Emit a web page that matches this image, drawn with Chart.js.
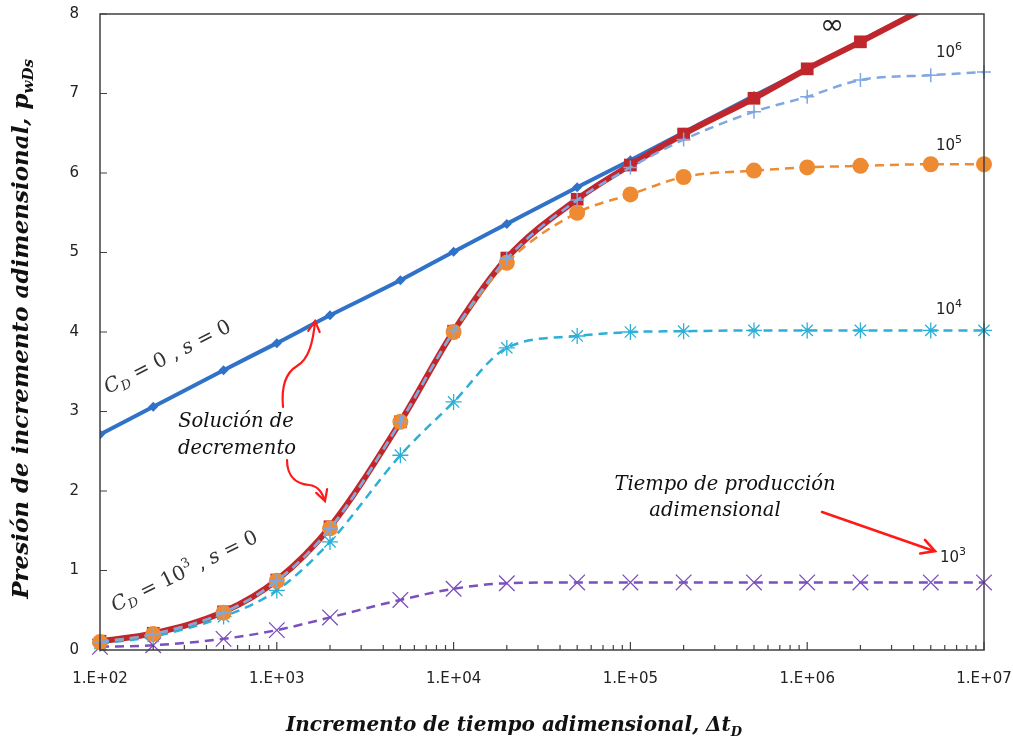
<!DOCTYPE html>
<html lang="es">
<head>
<meta charset="UTF-8">
<title>Presión de incremento adimensional</title>
<script src="https://cdn.jsdelivr.net/npm/chart.js"></script>
<style>
  body { margin: 0; background: #fff; }
  canvas { display: block; }
</style>
</head>
<body>
<canvas id="grafica" width="1013" height="738"></canvas>
<script>
// Incremento de tiempo adimensional (eje x logarítmico)
const dtD = [1e2, 2e2, 5e2, 1e3, 2e3, 5e3, 1e4, 2e4, 5e4, 1e5, 2e5, 5e5, 1e6, 2e6, 5e6, 1e7];

// C_D = 0, s = 0
const cd0 = [2.71, 3.06, 3.52, 3.86, 4.21, 4.65, 5.01, 5.36, 5.82, 6.16, 6.51, 6.97, 7.31, 7.66, 8.12, 8.46];
// C_D = 10^3, s = 0, para cada tiempo de producción
const tpInf = [0.11, 0.21, 0.48, 0.88, 1.55, 2.87, 4.01, 4.93, 5.67, 6.10, 6.49, 6.94, 7.31, 7.65, 8.11, 8.46];
const tp1e6 = [0.10, 0.20, 0.47, 0.87, 1.53, 2.87, 4.01, 4.92, 5.66, 6.07, 6.42, 6.77, 6.96, 7.17, 7.23, 7.27];
const tp1e5 = [0.10, 0.20, 0.47, 0.87, 1.53, 2.87, 4.00, 4.87, 5.50, 5.73, 5.95, 6.03, 6.07, 6.09, 6.11, 6.11];
const tp1e4 = [0.08, 0.17, 0.42, 0.75, 1.36, 2.45, 3.12, 3.80, 3.95, 4.00, 4.01, 4.02, 4.02, 4.02, 4.02, 4.02];
const tp1e3 = [0.04, 0.06, 0.14, 0.25, 0.41, 0.63, 0.77, 0.84, 0.85, 0.85, 0.85, 0.85, 0.85, 0.85, 0.85, 0.85];

const xTicks = [1e2, 1e3, 1e4, 1e5, 1e6, 1e7];
const xTickLabels = ['1.E+02', '1.E+03', '1.E+04', '1.E+05', '1.E+06', '1.E+07'];
const yTicks = [0, 1, 2, 3, 4, 5, 6, 7, 8];

const SANS = '"DejaVu Sans", sans-serif';
const SERIF = '"DejaVu Serif", serif';
const pts = arr => arr.map((y, i) => ({ x: dtD[i], y }));

// texto con sub/superíndices: parts = [{t, font, dy}]
function textWidth(ctx, parts) {
  let w = 0;
  for (const p of parts) { ctx.font = p.font; w += ctx.measureText(p.t).width; }
  return w;
}
function drawParts(ctx, x, y, parts) {
  let cx = x;
  for (const p of parts) {
    ctx.font = p.font;
    ctx.fillText(p.t, cx, y + (p.dy || 0));
    cx += ctx.measureText(p.t).width;
  }
}
function arrowHead(ctx, x, y, ang, len) {
  ctx.beginPath();
  ctx.moveTo(x - len * Math.cos(ang - 0.5), y - len * Math.sin(ang - 0.5));
  ctx.lineTo(x, y);
  ctx.lineTo(x - len * Math.cos(ang + 0.5), y - len * Math.sin(ang + 0.5));
  ctx.stroke();
}

const marco = {
  id: 'marco',
  afterDraw(chart) {
    const { ctx, chartArea: a, scales } = chart;
    ctx.save();

    // marco y marcas de los ejes hacia dentro
    ctx.strokeStyle = '#404040';
    ctx.lineWidth = 1.5;
    ctx.strokeRect(a.left, a.top, a.right - a.left, a.bottom - a.top);
    ctx.lineWidth = 1.2;
    ctx.beginPath();
    for (const v of yTicks) {
      const y = scales.y.getPixelForValue(v);
      ctx.moveTo(a.left, y); ctx.lineTo(a.left + 7, y);
    }
    for (let d = 1e2; d < 1e7; d *= 10) {
      for (let k = 1; k <= 10; k++) {
        const x = scales.x.getPixelForValue(k * d);
        ctx.moveTo(x, a.bottom); ctx.lineTo(x, a.bottom - (k === 1 || k === 10 ? 8 : 5));
      }
    }
    ctx.stroke();

    // títulos de los ejes
    ctx.fillStyle = '#111';
    ctx.textBaseline = 'alphabetic';
    const xt = [
      { t: 'Incremento de tiempo adimensional, ', font: 'bold italic 20px ' + SERIF },
      { t: '\u0394t', font: 'bold italic 20px ' + SERIF },
      { t: 'D', font: 'bold italic 13px ' + SERIF, dy: 5 }
    ];
    drawParts(ctx, 514 - textWidth(ctx, xt) / 2, 731, xt);

    const yt = [
      { t: 'Presión de incremento adimensional, ', font: 'bold italic 23px ' + SERIF },
      { t: 'p', font: 'bold italic 23px ' + SERIF },
      { t: 'wDs', font: 'bold italic 15px ' + SERIF, dy: 5 }
    ];
    ctx.save();
    ctx.translate(28, 329);
    ctx.rotate(-Math.PI / 2);
    drawParts(ctx, -textWidth(ctx, yt) / 2, 0, yt);
    ctx.restore();

    // etiquetas de cada curva
    ctx.fillStyle = '#222';
    ctx.textBaseline = 'middle';
    ctx.font = '29px ' + SANS;
    ctx.fillText('\u221E', 820, 26);
    const pot = (e, x, y) => drawParts(ctx, x, y, [
      { t: '10', font: '15px ' + SANS },
      { t: e, font: '11px ' + SANS, dy: -6 }
    ]);
    pot('6', 936, 53);
    pot('5', 936, 146);
    pot('4', 936, 310);
    pot('3', 940, 558);

    // C_D = 0, s = 0  y  C_D = 10^3, s = 0
    ctx.fillStyle = '#333';
    ctx.textBaseline = 'alphabetic';
    const cf = 'italic 20px ' + SERIF;
    const cfs = 'italic 13px ' + SERIF;
    const nf = '20px ' + SERIF;
    ctx.save();
    ctx.translate(108, 394);
    ctx.rotate(-0.47);
    drawParts(ctx, 0, 0, [
      { t: 'C', font: cf }, { t: 'D', font: cfs, dy: 4 },
      { t: ' = 0 , ', font: nf }, { t: 's', font: cf }, { t: ' = 0', font: nf }
    ]);
    ctx.restore();
    ctx.save();
    ctx.translate(115, 612);
    ctx.rotate(-0.455);
    drawParts(ctx, 0, 0, [
      { t: 'C', font: cf }, { t: 'D', font: cfs, dy: 4 },
      { t: ' = 10', font: nf }, { t: '3', font: '13px ' + SERIF, dy: -9 },
      { t: ' , ', font: nf }, { t: 's', font: cf }, { t: ' = 0', font: nf }
    ]);
    ctx.restore();

    // notas en cursiva
    ctx.fillStyle = '#111';
    ctx.textAlign = 'center';
    ctx.font = 'italic 19.5px ' + SERIF;
    ctx.fillText('Solución de', 236, 427);
    ctx.fillText('decremento', 237, 454);
    ctx.fillText('Tiempo de producción', 725, 490);
    ctx.fillText('adimensional', 715, 516);

    // flechas rojas
    ctx.strokeStyle = '#FF1A1A';
    ctx.lineWidth = 2.2;
    ctx.lineCap = 'round';
    ctx.beginPath();
    ctx.moveTo(283, 407);
    ctx.bezierCurveTo(281, 385, 287, 372, 297, 366);
    ctx.bezierCurveTo(309, 359, 313, 342, 315, 322);
    ctx.stroke();
    arrowHead(ctx, 315, 321, Math.atan2(-20, 2), 12);

    ctx.beginPath();
    ctx.moveTo(287, 460);
    ctx.bezierCurveTo(287, 478, 298, 484, 309, 485);
    ctx.bezierCurveTo(318, 486, 322, 492, 325, 501);
    ctx.stroke();
    arrowHead(ctx, 325, 501, Math.atan2(9, 3), 12);

    ctx.lineWidth = 2.6;
    ctx.beginPath();
    ctx.moveTo(822, 512);
    ctx.lineTo(934, 551);
    ctx.stroke();
    arrowHead(ctx, 935, 551, Math.atan2(39, 113), 15);

    ctx.restore();
  }
};

const dash = [9, 6];
new Chart(document.getElementById('grafica'), {
  type: 'line',
  data: {
    datasets: [
      { data: pts(tp1e6), borderColor: '#7FA7E2', borderWidth: 2.5, borderDash: dash,
        pointStyle: 'cross', pointRadius: 7, pointBorderWidth: 1.5, pointBorderColor: '#7FA7E2', clip: false },
      { data: pts(tp1e5), borderColor: '#EE8B32', borderWidth: 2.5, borderDash: dash,
        pointStyle: 'circle', pointRadius: 8, pointBorderWidth: 0, pointBackgroundColor: '#EE8B32', clip: false },
      { data: pts(tp1e4), borderColor: '#2CB0D6', borderWidth: 2.5, borderDash: dash,
        pointStyle: 'star', pointRadius: 8, pointBorderWidth: 1.3, pointBorderColor: '#2CB0D6', clip: false },
      { data: pts(tp1e3), borderColor: '#7B4FBD', borderWidth: 2.5, borderDash: dash,
        pointStyle: 'crossRot', pointRadius: 11, pointBorderWidth: 1.3, pointBorderColor: '#7B4FBD', clip: false },
      { data: pts(tpInf), borderColor: '#C0272D', borderWidth: 6,
        pointStyle: 'rect', pointRadius: 9, pointBorderWidth: 0, pointBackgroundColor: '#C0272D' },
      { data: pts(cd0), borderColor: '#2F72C8', borderWidth: 4,
        pointStyle: 'rectRot', pointRadius: 5, pointBorderWidth: 0, pointBackgroundColor: '#2F72C8' }
    ]
  },
  options: {
    responsive: false,
    animation: false,
    cubicInterpolationMode: 'monotone',
    layout: { padding: { top: 14, right: 29, left: 0, bottom: 0 } },
    plugins: { legend: { display: false }, tooltip: { enabled: false } },
    scales: {
      x: {
        type: 'logarithmic', min: 1e2, max: 1e7,
        grid: { display: false }, border: { display: false },
        afterBuildTicks: s => { s.ticks = xTicks.map(v => ({ value: v })); },
        afterFit: s => { s.height = 88; s.paddingLeft = 0; s.paddingRight = 0; },
        ticks: {
          autoSkip: false, maxRotation: 0, padding: 12, color: '#222',
          font: { family: SANS, size: 15 },
          callback: v => xTickLabels[xTicks.indexOf(v)] ?? ''
        }
      },
      y: {
        min: 0, max: 8,
        grid: { display: false }, border: { display: false },
        afterFit: s => { s.width = 100; s.paddingTop = 0; s.paddingBottom = 0; },
        ticks: { stepSize: 1, padding: 13, color: '#222', font: { family: SANS, size: 15 } }
      }
    }
  },
  plugins: [marco]
});
</script>
</body>
</html>
